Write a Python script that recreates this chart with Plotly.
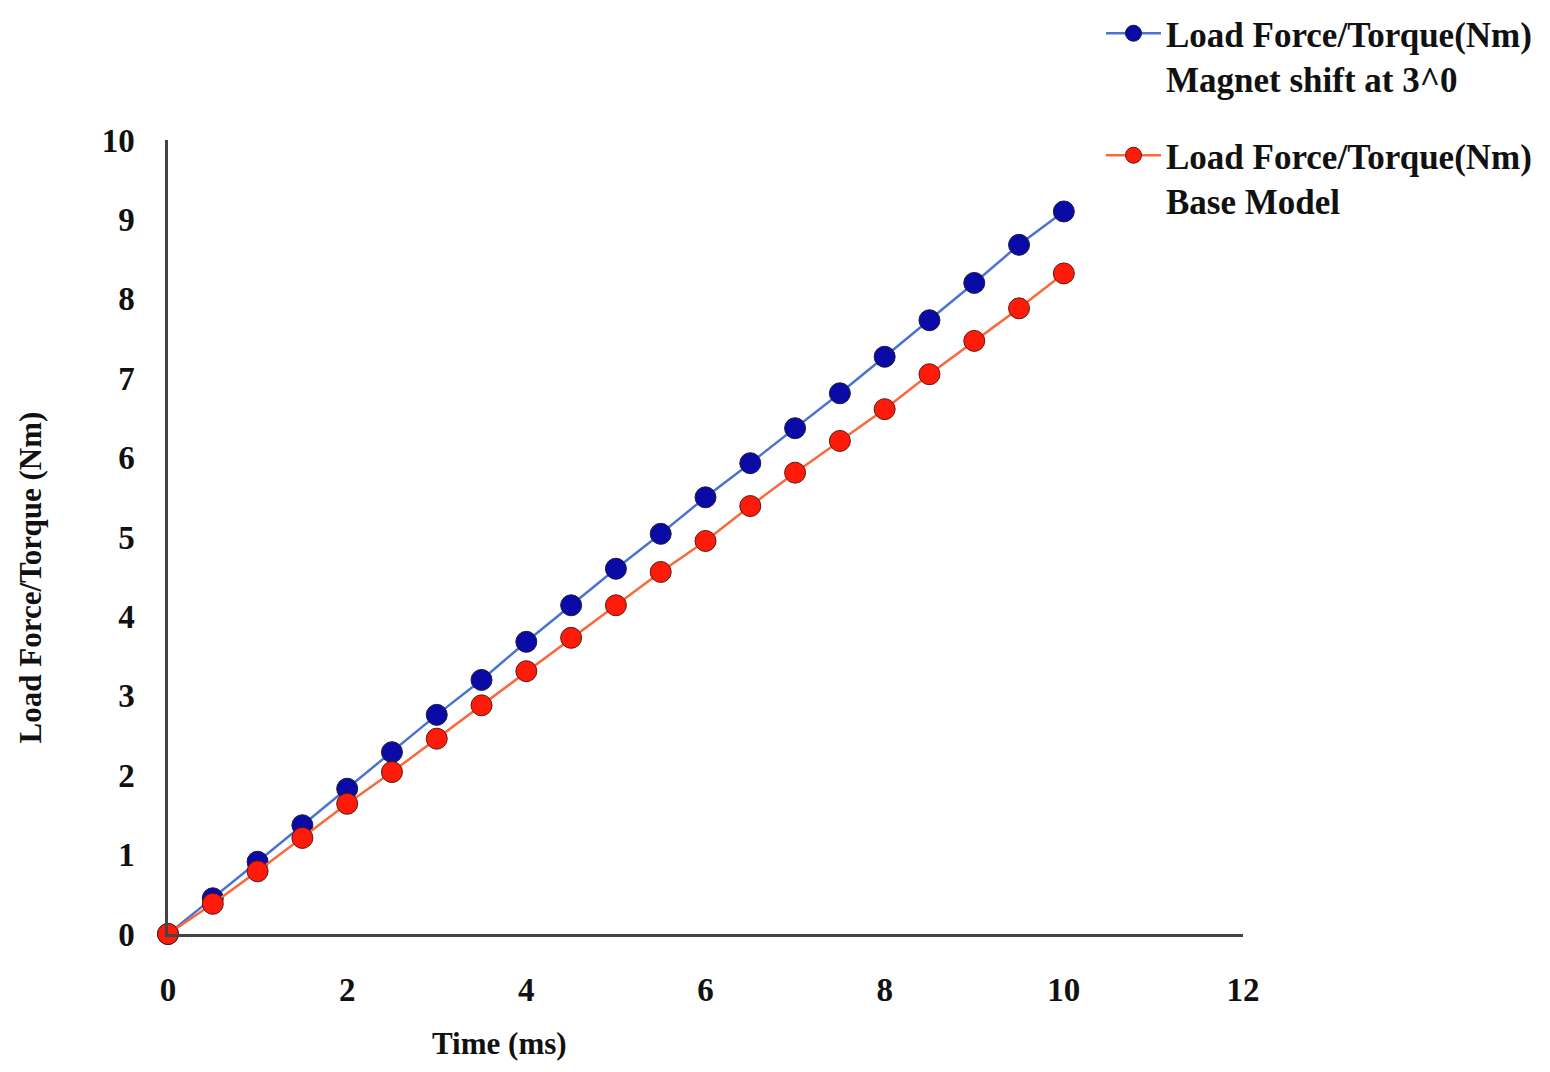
import plotly.graph_objects as go

time_ms = [0, 0.5, 1, 1.5, 2, 2.5, 3, 3.5, 4, 4.5, 5, 5.5, 6, 6.5, 7, 7.5, 8, 8.5, 9, 9.5, 10]
magnet_shift = [0, 0.45, 0.91, 1.37, 1.83, 2.29, 2.76, 3.2, 3.68, 4.14, 4.6, 5.04, 5.5, 5.93, 6.37,
                6.81, 7.27, 7.73, 8.2, 8.68, 9.1]
base_model = [0, 0.38, 0.79, 1.21, 1.64, 2.04, 2.46, 2.88, 3.31, 3.73, 4.14, 4.56, 4.95, 5.39, 5.81,
              6.21, 6.61, 7.05, 7.47, 7.88, 8.32]
x_ticks = [0, 2, 4, 6, 8, 10, 12]
y_ticks = [0, 1, 2, 3, 4, 5, 6, 7, 8, 9, 10]

FONT = "Liberation Serif"

fig = go.Figure()
fig.add_trace(go.Scatter(
    x=time_ms, y=magnet_shift, mode="lines+markers",
    name="<b>Load Force/Torque(Nm)<br>Magnet shift at 3^0</b>",
    legendgroup="a",
    line=dict(color="#4a74d0", width=2.5),
    marker=dict(color="#0a0aa6", size=21, line=dict(color="#1a1a40", width=1)),
    cliponaxis=False,
))
fig.add_trace(go.Scatter(
    x=time_ms, y=base_model, mode="lines+markers",
    name="<b>Load Force/Torque(Nm)<br>Base Model</b>",
    legendgroup="b",
    line=dict(color="#f86a3c", width=2.5),
    marker=dict(color="#ff1a0a", size=21, line=dict(color="#5a1a10", width=1)),
    cliponaxis=False,
))

fig.update_layout(
    width=1550, height=1072,
    paper_bgcolor="white", plot_bgcolor="white",
    margin=dict(l=160, r=315, t=132, b=146, autoexpand=False),
    font=dict(family=FONT, size=33, color="#111"),
    legend=dict(
        x=0.8679, xref="paper", xanchor="left",
        y=1.1713, yref="paper", yanchor="top",
        font=dict(family=FONT, size=35, color="#111"),
        valign="top", itemwidth=55, tracegroupgap=28,
        bgcolor="rgba(0,0,0,0)",
    ),
    annotations=[
        dict(text="<b>Time (ms)</b>", x=0.3088, y=-0.1385,
             xref="paper", yref="paper",
             showarrow=False, font=dict(family=FONT, size=31, color="#111"),
             xanchor="center", yanchor="middle"),
        dict(text="<b>Load Force/Torque (Nm)</b>", x=-0.128, y=0.4496,
             xref="paper", yref="paper", textangle=-90,
             showarrow=False, font=dict(family=FONT, size=31, color="#111"),
             xanchor="center", yanchor="middle"),
    ],
)

fig.update_xaxes(
    range=[0, 12], tickvals=x_ticks, ticktext=[f"<b>{v}</b>" for v in x_ticks],
    showgrid=False, zeroline=False, showline=True, linecolor="#444", linewidth=2.5,
    ticks="", ticklabelstandoff=25,
)
fig.update_yaxes(
    range=[0, 10], tickvals=y_ticks, ticktext=[f"<b>{v}</b>" for v in y_ticks],
    showgrid=False, zeroline=False, showline=True, linecolor="#444", linewidth=2.5,
    ticks="", ticklabelstandoff=24,
)

fig.write_html("out.html")
